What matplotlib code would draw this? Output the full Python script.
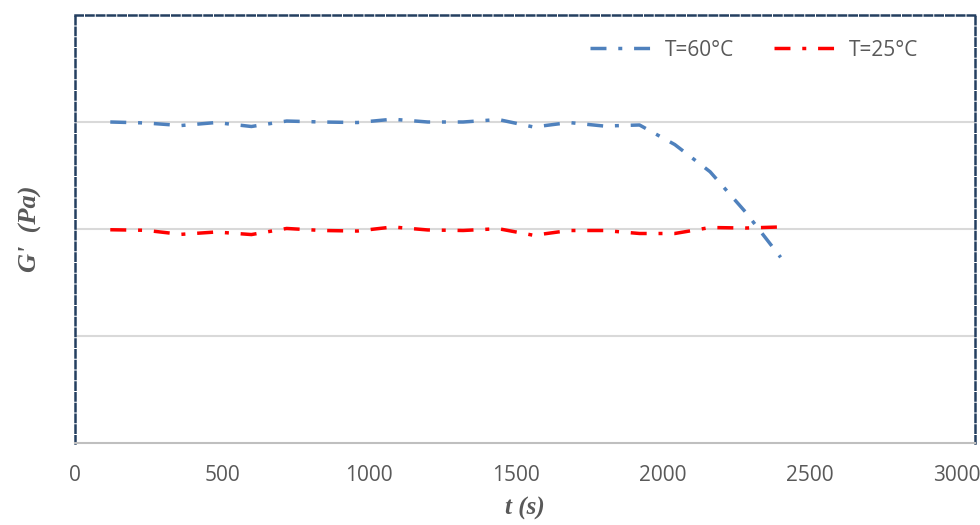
import numpy as np
import matplotlib.pyplot as plt

# tempo (s) e G' (unidades arbitrárias, eixo sem rótulos)
t = [120, 240, 360, 480, 600, 720, 840, 960, 1080, 1200,
     1320, 1440, 1560, 1680, 1800, 1920, 2040, 2160, 2280, 2400]
g_60 = [3.000, 2.991, 2.967, 2.995, 2.958, 3.009, 3.000, 2.995, 3.026, 3.000,
        3.000, 3.023, 2.953, 2.995, 2.962, 2.972, 2.789, 2.535, 2.160, 1.735]
g_25 = [1.993, 1.988, 1.950, 1.972, 1.948, 2.005, 1.986, 1.981, 2.019, 1.991,
        1.986, 2.003, 1.941, 1.986, 1.986, 1.958, 1.958, 2.014, 2.009, 2.019]

x_ticks = [0, 500, 1000, 1500, 2000, 2500, 3000]
y_grid = [1, 2, 3]

cinza = '#595959'
fig = plt.figure(figsize=(9.8, 5.25), dpi=100)
ax = fig.add_axes([75 / 980, 82 / 525, 900 / 980, 428 / 525])

traco = (0, (4.6, 3.4, 1.15, 3.4))
ax.plot(t, g_60, color='#4F81BD', lw=2.5, linestyle=traco, label='T=60°C',
        dash_capstyle='butt')
ax.plot(t, g_25, color='#FF0000', lw=2.5, linestyle=traco, label='T=25°C',
        dash_capstyle='butt')

ax.set_xlim(0, 3061)
ax.set_ylim(0, 4)
ax.set_xticks(x_ticks)
ax.set_yticks(y_grid)
ax.set_yticklabels([])
ax.grid(axis='y', color='#D9D9D9', lw=1.5)
ax.set_axisbelow(True)
ax.tick_params(axis='both', length=0)
ax.tick_params(axis='x', pad=16, labelsize=15, labelcolor=cinza)
for lab in ax.get_xticklabels():
    lab.set_family('Open Sans')

# borda tracejada do gráfico, eixo x cinza
for lado in ['left', 'top', 'right']:
    ax.spines[lado].set_color('#243F60')
    ax.spines[lado].set_linewidth(1.8)
    ax.spines[lado].set_linestyle((0, (2.9, 1.4)))
ax.spines['bottom'].set_color('#BFBFBF')
ax.spines['bottom'].set_linewidth(1.5)

ax.set_xlabel('t (s)', family='Liberation Serif', weight='bold', style='italic',
              fontsize=18, color=cinza, labelpad=8)
ax.set_ylabel("G'  (Pa)", family='Liberation Serif', weight='bold', style='italic',
              fontsize=19, color=cinza, labelpad=20)

leg = ax.legend(loc='center right', bbox_to_anchor=(0.937, 0.918), ncol=2,
                frameon=False, handlelength=2.9, handletextpad=0.7,
                columnspacing=1.9, borderpad=0, borderaxespad=0,
                prop={'family': 'Open Sans', 'size': 15})
for txt in leg.get_texts():
    txt.set_color(cinza)

fig.savefig('out.png', dpi=100)
